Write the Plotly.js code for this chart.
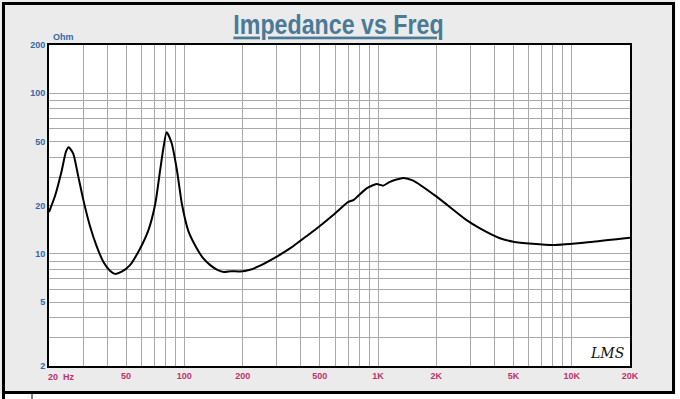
<!DOCTYPE html>
<html>
<head>
<meta charset="utf-8">
<script src="https://cdn.plot.ly/plotly-3.0.1.min.js"></script>
<style>html,body{margin:0;padding:0;background:#fff;}#chart{width:680px;height:399px;}</style>
</head>
<body>
<div id="chart"></div>
<script>
// Impedance curve (Hz, Ohm)
const freqHz = [20, 21.5, 23.2, 24.5, 25.3, 26.7, 28.3, 30.1, 32.6, 35.3, 38.2, 41.3, 43.8, 47.5, 52.4, 59.1, 65.3, 70.8, 75, 77.8, 81, 86, 91.5, 97, 105, 116, 125, 136, 148, 160, 175, 194, 218, 246, 300, 351, 395, 428, 497, 587, 702, 745, 873, 984, 1064, 1152, 1350, 1520, 2007, 2866, 3360, 4260, 4990, 8030, 12900, 20000];
const impedanceOhm = [18.2, 23.0, 32.5, 43.5, 46.1, 42.0, 30.5, 21.6, 14.8, 11.1, 8.9, 7.85, 7.5, 7.74, 8.5, 10.8, 14.1, 20.6, 33.3, 45.0, 57.2, 48.8, 33.3, 20.6, 13.8, 10.8, 9.4, 8.5, 7.95, 7.7, 7.8, 7.75, 7.95, 8.43, 9.6, 10.8, 12.0, 12.9, 14.8, 17.45, 21.1, 21.6, 25.6, 27.2, 26.6, 28.1, 29.7, 28.6, 22.7, 16.2, 14.4, 12.5, 11.9, 11.35, 11.9, 12.6];

// Axis grid positions and labels
const xTickVals = [20,30,40,50,60,70,80,90,100,200,300,400,500,600,700,800,900,1000,2000,3000,4000,5000,6000,7000,8000,9000,10000,20000];
const xTickText = ['','','','50','','','','','100','200','','','500','','','','','1K','2K','','','5K','','','','','10K','20K'];
const yTickVals = [2,3,4,5,6,7,8,9,10,20,30,40,50,60,70,80,90,100,200];
const yTickText = ['2','','','5','','','','','10','20','','','50','','','','','100','200'];

const titleText = 'Impedance vs Freq';
const yUnit = 'Ohm';
const xFirstLabel = '20  Hz';
const signature = 'LMS';

// helpers: pixel -> paper
const L = 49, R = 630, T = 45, B = 366;
const px = x => (x - L) / (R - L);
const py = y => (B - y) / (B - T);

const trace = {
  x: freqHz, y: impedanceOhm, type: 'scatter', mode: 'lines',
  line: {color: '#000', width: 2, shape: 'spline', smoothing: 0.6},
  hoverinfo: 'skip'
};

const gridCol = '#a9a9a9';
const layout = {
  width: 680, height: 399,
  margin: {l: L, r: 680 - R, t: T, b: 399 - B, pad: 0},
  paper_bgcolor: '#ebebeb', plot_bgcolor: '#ffffff',
  showlegend: false,
  title: {text: titleText, x: 338.5 / 680, xanchor: 'center', y: 1 - 25 / 399, yanchor: 'middle',
    font: {family: '"Liberation Sans", Arial, sans-serif', size: 27, color: '#4a7a96', weight: 700, lineposition: 'under'}},
  xaxis: {type: 'log', range: [Math.log10(20), Math.log10(20000)], tickmode: 'array', tickvals: xTickVals, ticktext: xTickText,
    showgrid: true, gridcolor: gridCol, gridwidth: 1, zeroline: false, ticks: '',
    showline: true, linecolor: '#000', linewidth: 2, mirror: true,
    tickfont: {family: '"Liberation Sans", Arial, sans-serif', size: 9, color: '#c2306a', weight: 700}},
  yaxis: {type: 'log', range: [Math.log10(2), Math.log10(200)], tickmode: 'array', tickvals: yTickVals, ticktext: yTickText,
    showgrid: true, gridcolor: gridCol, gridwidth: 1, zeroline: false, ticks: '',
    showline: true, linecolor: '#000', linewidth: 2, mirror: true, ticklabelstandoff: 0,
    tickfont: {family: '"Liberation Sans", Arial, sans-serif', size: 9, color: '#3566a6', weight: 700}},
  annotations: [
    {text: yUnit, xref: 'paper', yref: 'paper', x: px(51), y: py(37), xanchor: 'left', yanchor: 'middle', showarrow: false,
      font: {family: '"Liberation Sans", Arial, sans-serif', size: 9, color: '#3566a6', weight: 700}},
    {text: xFirstLabel, xref: 'paper', yref: 'paper', x: px(46), y: py(377), xanchor: 'left', yanchor: 'middle', showarrow: false,
      font: {family: '"Liberation Sans", Arial, sans-serif', size: 9, color: '#c2306a', weight: 700}},
    {text: signature, xref: 'paper', yref: 'paper', x: px(607), y: py(353), xanchor: 'center', yanchor: 'middle', showarrow: false,
      font: {family: '"DejaVu Serif", serif', size: 14, color: '#111', style: 'italic'}}
  ],
  shapes: [
    {type: 'rect', xref: 'paper', yref: 'paper', layer: 'above', x0: px(675.5), x1: px(690), y0: py(410), y1: py(-10), fillcolor: '#ffffff', line: {width: 0}},
    {type: 'rect', xref: 'paper', yref: 'paper', layer: 'above', x0: px(-10), x1: px(690), y0: py(410), y1: py(394), fillcolor: '#ffffff', line: {width: 0}},
    {type: 'rect', xref: 'paper', yref: 'paper', layer: 'above', x0: px(3.5), x1: px(673.5), y0: py(392.5), y1: py(3.5), line: {color: '#000', width: 3}},
    {type: 'line', xref: 'paper', yref: 'paper', layer: 'above', x0: px(3.5), x1: px(3.5), y0: py(392), y1: py(400), line: {color: '#000', width: 3}},
    {type: 'line', xref: 'paper', yref: 'paper', layer: 'above', x0: px(32), x1: px(32), y0: py(393), y1: py(400), line: {color: '#000', width: 1}}
  ]
};

Plotly.newPlot('chart', [trace], layout, {displayModeBar: false, staticPlot: true}).then(function (gd) {
  // condense the title horizontally, like the narrow face of the reference
  const t = gd.querySelector('.gtitle');
  if (t) {
    const cx = 338.5;
    t.setAttribute('transform', 'translate(' + cx + ',0) scale(0.86,1) translate(' + (-cx) + ',0)');
  }
});
</script>
</body>
</html>
